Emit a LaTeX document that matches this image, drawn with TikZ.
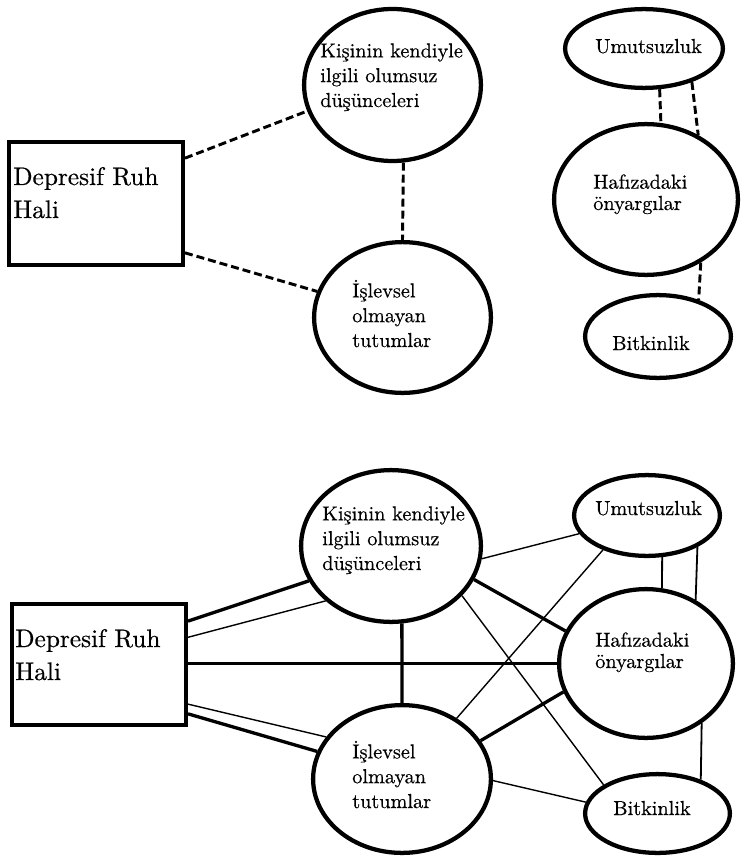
\documentclass[tikz,border=0pt]{standalone}
\usepackage{fontspec}
\usetikzlibrary{shapes.geometric}
\newfontfamily\lblfont{lmroman10-regular.otf}[FakeBold=0.5]

\tikzset{
  ell/.style={ellipse, draw, line width=3.2pt, inner sep=0pt},
  boxshape/.style={rectangle, draw, line width=3pt, inner sep=0pt},
  % multi-line blocks are placed by the baseline of their last line
  bigtxt/.style={anchor=base west, align=left, inner sep=0pt,
    font=\lblfont\fontsize{19pt}{24.75pt}\selectfont},
  smalltxt/.style={anchor=base west, align=left, inner sep=0pt,
    font=\lblfont\fontsize{15.2pt}{18.6pt}\selectfont},
  tighttxt/.style={smalltxt, font=\lblfont\fontsize{15.2pt}{16pt}\selectfont},
  dashlink/.style={line width=2.2pt, dash pattern=on 6pt off 3pt},
  thicklink/.style={line width=2.5pt},
  thinlink/.style={line width=1.05pt},
  midlink/.style={line width=1.35pt},
}

\begin{document}
\begin{tikzpicture}[x=0.75pt, y=-0.75pt]
\useasboundingbox (0,0) rectangle (745,859);

% ---------------- upper model: dashed links ----------------
\node[boxshape, minimum width=130.5pt, minimum height=92.25pt] (box1) at (96,203.5) {};
\node[bigtxt] (box1t) at (13,218) {Depresif Ruh\\Hali};

\node[ell, minimum width=132.6pt, minimum height=114pt] (K1) at (392.5,85) {};
\node[smalltxt] (K1t) at (320,107) {Kişinin kendiyle\\ilgili olumsuz\\düşünceleri};

\node[ell, minimum width=132.6pt, minimum height=113.1pt] (I1) at (402.5,317.5) {};
\node[smalltxt] (I1t) at (352,347) {İşlevsel\\olmayan\\tutumlar};

\node[ell, minimum width=118.35pt, minimum height=59.1pt] (U1) at (644,48.5) {};
\node[smalltxt] (U1t) at (595,53) {Umutsuzluk};

\node[ell, minimum width=137.85pt, minimum height=113.1pt] (H1) at (646,199.5) {};
\node[tighttxt] (H1t) at (593,210) {Hafızadaki\\önyargılar};

\node[ell, minimum width=109.35pt, minimum height=62.1pt] (B1) at (658,336.5) {};
\node[smalltxt] (B1t) at (612,350) {Bitkinlik};

\draw[dashlink] (box1.27.1) -- (K1.197.5);
\draw[dashlink] (box1.-29.1) -- (I1.163.1);
\draw[dashlink] (K1.-82.9) -- (I1.90);
\draw[dashlink] (U1.-69.8) -- (H1.79.6);
\draw[dashlink] (U1.-35.6) -- (H1.51.2);
\draw[dashlink] (H1.-49.6) -- (B1.42);

% ---------------- lower model: solid links ----------------
\node[boxshape, minimum width=130.5pt, minimum height=90.75pt] (box2) at (99,664.5) {};
\node[bigtxt] (box2t) at (15,680) {Depresif Ruh\\Hali};

\node[ell, minimum width=134.85pt, minimum height=113.85pt] (K2) at (391,546) {};
\node[smalltxt] (K2t) at (322,570) {Kişinin kendiyle\\ilgili olumsuz\\düşünceleri};

\node[ell, minimum width=133.35pt, minimum height=110.85pt] (I2) at (402,779) {};
\node[smalltxt] (I2t) at (352,808) {İşlevsel\\olmayan\\tutumlar};

\node[ell, minimum width=109.35pt, minimum height=60.6pt] (U2) at (647,515.5) {};
\node[smalltxt] (U2t) at (595,515) {Umutsuzluk};

\node[ell, minimum width=130.35pt, minimum height=111.6pt] (H2) at (646,663.5) {};
\node[tighttxt] (H2t) at (595,668) {Hafızadaki\\önyargılar};

\node[ell, minimum width=108.6pt, minimum height=59.1pt] (B2) at (657.5,813.5) {};
\node[smalltxt] (B2t) at (613,815) {Bitkinlik};

% links leaving the mood box
\draw[thicklink] (box2.26.6) -- (K2.203.4);
\draw[thinlink]  (box2.17.2) -- (K2.220.3);
\draw[thicklink] (H2.west -| box2.east) -- (H2.west);
\draw[thinlink]  (box2.-24.5) -- (I2.151.4);
\draw[thicklink] (box2.-29.6) -- (I2.162.8);

% links between the cognitive factors
\draw[thicklink] (K2.-82) -- (I2.90);
\draw[thinlink]  (K2.-8.7) -- (U2.195.8);
\draw[thicklink] (K2.-22) -- (H2.158.6);
\draw[thinlink]  (K2.-35.3) -- (B2.152.1);
\draw[thinlink]  (I2.48.2) -- (U2.218.6);
\draw[thicklink] (I2.26.8) -- (H2.199.6);
\draw[thinlink]  (I2.-1) -- (B2.171.3);
\draw[midlink]   (U2.-70.6) -- (H2.78.2);
\draw[midlink]   (U2.-32.5) -- (H2.52);
\draw[midlink]   (H2.-47.2) -- (B2.38);
\end{tikzpicture}
\end{document}
